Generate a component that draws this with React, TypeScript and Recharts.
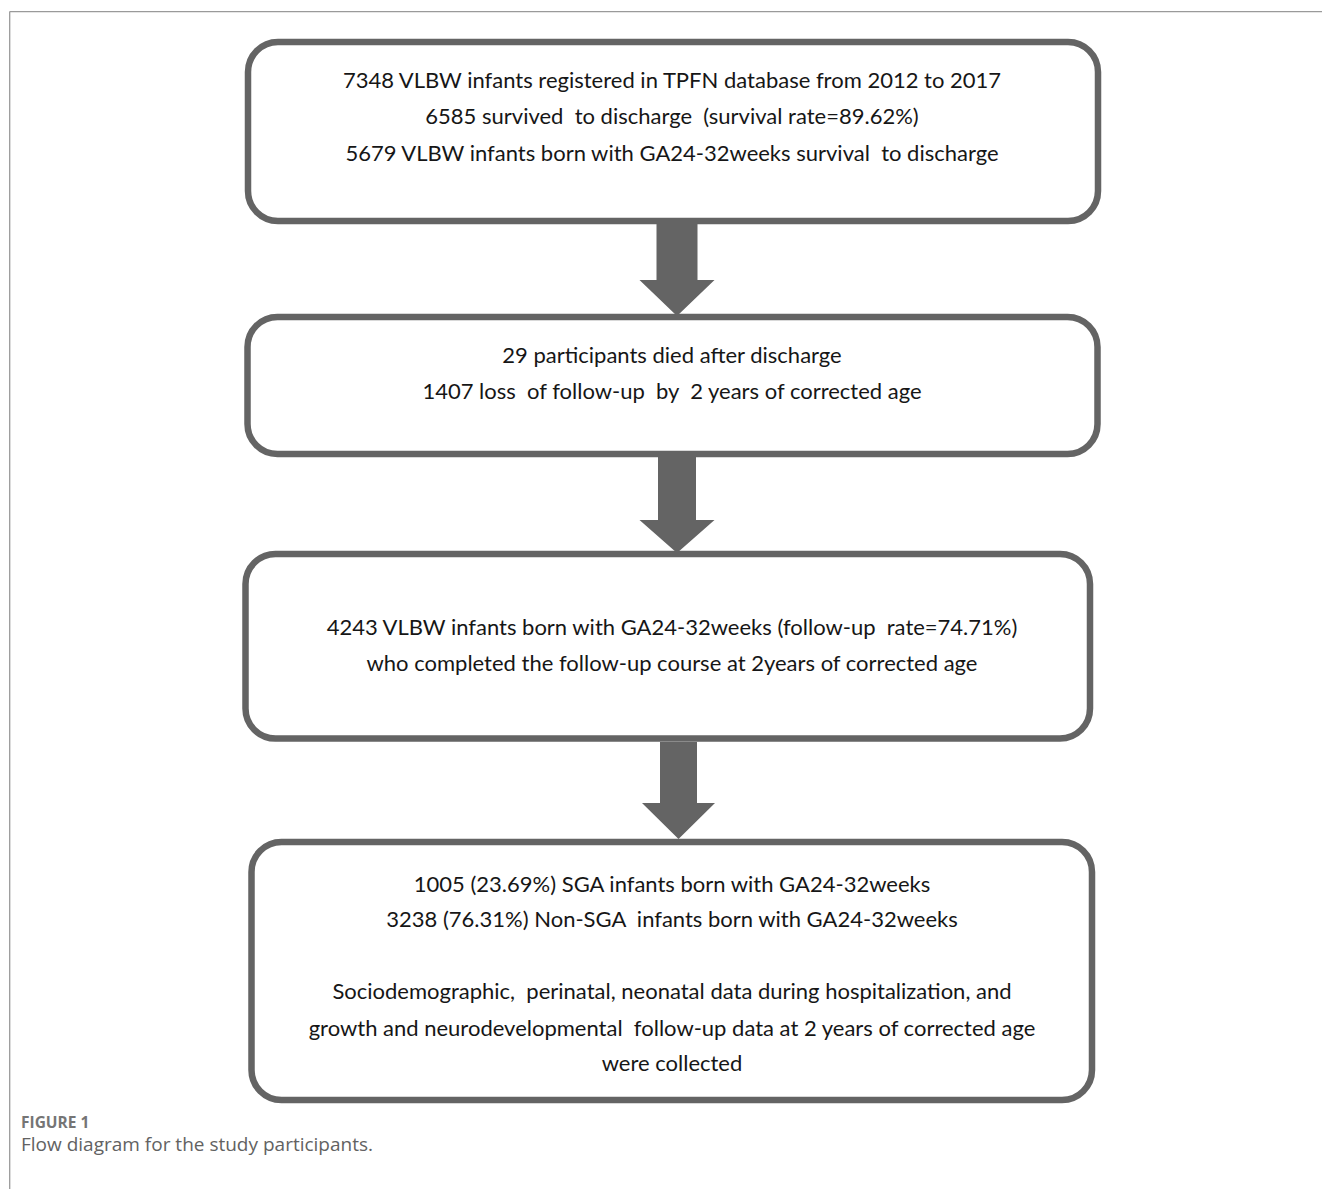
import React from 'react';
import { ComposedChart, XAxis, YAxis, ReferenceArea, ReferenceLine, Scatter } from 'recharts';

// ---------- content ----------
const box1Lines = [
  '7348 VLBW infants registered in TPFN database from 2012 to 2017',
  '6585 survived  to discharge  (survival rate=89.62%)',
  '5679 VLBW infants born with GA24-32weeks survival  to discharge',
];
const box2Lines = [
  '29 participants died after discharge',
  '1407 loss  of follow-up  by  2 years of corrected age',
];
const box3Lines = [
  '4243 VLBW infants born with GA24-32weeks (follow-up  rate=74.71%)',
  'who completed the follow-up course at 2years of corrected age',
];
const box4Lines = [
  '1005 (23.69%) SGA infants born with GA24-32weeks',
  '3238 (76.31%) Non-SGA  infants born with GA24-32weeks',
  'Sociodemographic,  perinatal, neonatal data during hospitalization, and',
  'growth and neurodevelopmental  follow-up data at 2 years of corrected age',
  'were collected',
];
const captionLabel = 'FIGURE 1';
const captionText = 'Flow diagram for the study participants.';

// ---------- layout (page coordinates) ----------
const W = 1322;
const H = 1189;
const boxRects = [
  { x1: 248, x2: 1098, y1: 42, y2: 221 },
  { x1: 247.5, x2: 1097.5, y1: 317, y2: 454 },
  { x1: 245.5, x2: 1090, y1: 554, y2: 738.5 },
  { x1: 251.5, x2: 1092, y1: 842, y2: 1100 },
];
const lineYs = [
  [79, 115, 152],
  [354, 390],
  [626, 662],
  [883, 918, 990, 1027, 1062],
];
const arrows = [
  { cx: 677, top: 224, headTop: 280, tip: 316, shaft: 41, head: 75 },
  { cx: 677, top: 457, headTop: 520, tip: 553, shaft: 38, head: 75 },
  { cx: 678.5, top: 742, headTop: 803, tip: 839, shaft: 37, head: 73 },
];
const TEXT_X = 672;

const boxTexts = [box1Lines, box2Lines, box3Lines, box4Lines];
const textPoints = boxTexts.flatMap((lines, bi) =>
  lines.map((t, li) => ({ x: TEXT_X, y: lineYs[bi][li], text: t }))
);
const captionPoints = [
  { x: 21, y: 1122, text: captionLabel, kind: 'label' },
  { x: 21, y: 1144, text: captionText, kind: 'text' },
];

const STROKE = '#646464';

const RoundedBox = (props: any) => {
  const { x, y, width, height } = props;
  return (
    <rect
      x={x}
      y={y}
      width={width}
      height={height}
      rx={30}
      ry={30}
      fill="#ffffff"
      stroke={STROKE}
      strokeWidth={6.5}
    />
  );
};

const makeArrowShape = (a: any) => (props: any) => {
  const { x, y, width, height } = props;
  const k = height / (a.tip - a.top);
  const cx = x + width / 2;
  const hy = y + (a.headTop - a.top) * k;
  const s = (a.shaft / a.head) * width / 2;
  const pts = [
    [cx - s, y],
    [cx + s, y],
    [cx + s, hy],
    [x + width, hy],
    [cx, y + height],
    [x, hy],
    [cx - s, hy],
  ]
    .map((p) => p.join(','))
    .join(' ');
  return <polygon points={pts} fill={STROKE} />;
};

const BoxText = (props: any) => {
  const { cx, cy, payload } = props;
  return (
    <text
      x={cx}
      y={cy}
      textAnchor="middle"
      dominantBaseline="central"
      fontFamily="Lato, 'DejaVu Sans', sans-serif"
      fontSize={22}
      fill="#161616"
      style={{ whiteSpace: 'pre' }}
    >
      {payload.text}
    </text>
  );
};

const CaptionText = (props: any) => {
  const { cx, cy, payload } = props;
  const isLabel = payload.kind === 'label';
  return (
    <text
      x={cx}
      y={cy}
      textAnchor="start"
      dominantBaseline="central"
      fontFamily="'Open Sans', 'Noto Sans', sans-serif"
      fontSize={isLabel ? 15.5 : 19}
      fontWeight={isLabel ? 700 : 400}
      fill={isLabel ? '#757575' : '#626262'}
    >
      {payload.text}
    </text>
  );
};

export default function App() {
  return (
    <div style={{ position: 'absolute', left: 0, top: 0, width: W, height: H, background: '#fff' }}>
      <ComposedChart width={W} height={H} margin={{ top: 0, right: 0, bottom: 0, left: 0 }}>
        <XAxis type="number" dataKey="x" domain={[0, W]} scale="linear" allowDataOverflow hide />
        <YAxis type="number" dataKey="y" domain={[0, H]} scale="linear" reversed allowDataOverflow hide />

        <ReferenceLine
          segment={[{ x: 9.7, y: 11.6 }, { x: W, y: 11.6 }]}
          stroke="#9a9a9a"
          strokeWidth={1.3}
          ifOverflow="visible"
        />
        <ReferenceLine
          segment={[{ x: 9.7, y: 11.6 }, { x: 9.7, y: H }]}
          stroke="#9a9a9a"
          strokeWidth={1.3}
          ifOverflow="visible"
        />

        {boxRects.map((b, i) => (
          <ReferenceArea
            key={'box' + i}
            x1={b.x1}
            x2={b.x2}
            y1={b.y1}
            y2={b.y2}
            ifOverflow="visible"
            shape={RoundedBox}
          />
        ))}

        {arrows.map((a, i) => (
          <ReferenceArea
            key={'arrow' + i}
            x1={a.cx - a.head / 2}
            x2={a.cx + a.head / 2}
            y1={a.top}
            y2={a.tip}
            ifOverflow="visible"
            shape={makeArrowShape(a)}
          />
        ))}

        <Scatter data={textPoints} dataKey="y" shape={BoxText} isAnimationActive={false} />
        <Scatter data={captionPoints} dataKey="y" shape={CaptionText} isAnimationActive={false} />
      </ComposedChart>
    </div>
  );
}
